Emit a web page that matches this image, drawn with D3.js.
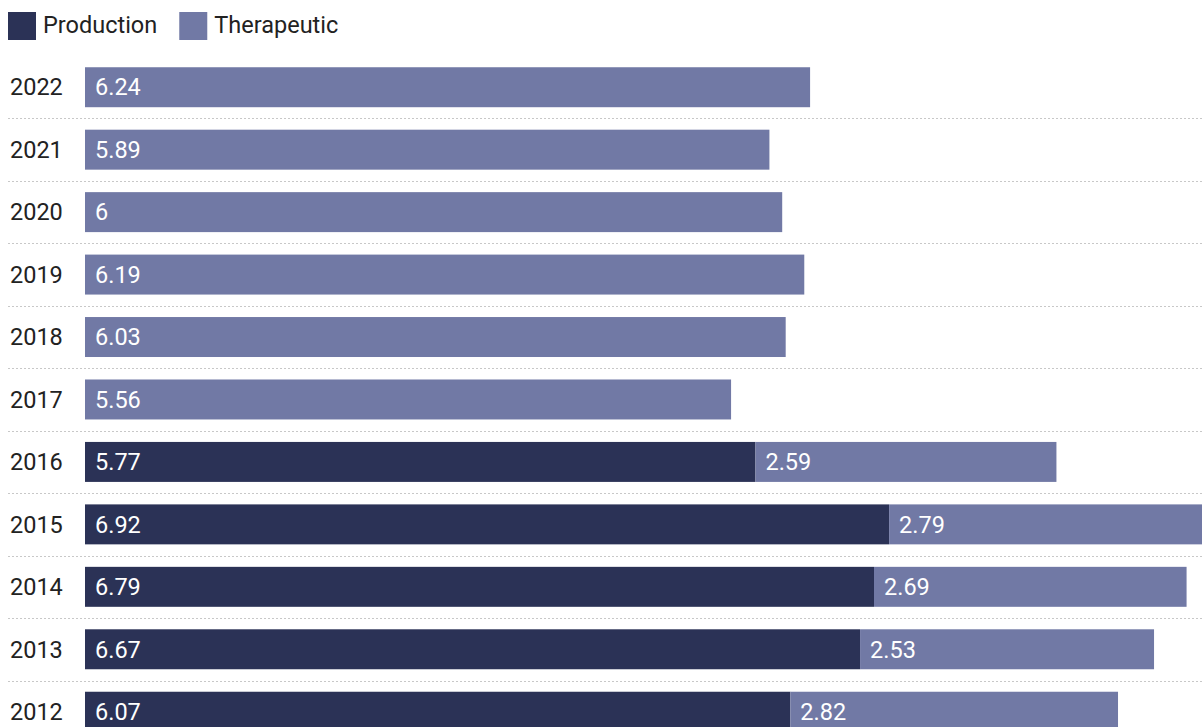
<!DOCTYPE html>
<html>
<head>
<meta charset="utf-8">
<script src="https://cdn.jsdelivr.net/npm/d3@7"></script>
<style>
  body { margin: 0; background: #fff; overflow: hidden; }
  text { font-family: Roboto, "Open Sans", sans-serif; }
</style>
</head>
<body>
<div id="chart"></div>
<script>
const years = ["2022", "2021", "2020", "2019", "2018", "2017", "2016", "2015", "2014", "2013", "2012"]
const production = [null, null, null, null, null, null, 5.77, 6.92, 6.79, 6.67, 6.07]
const therapeutic = [6.24, 5.89, 6, 6.19, 6.03, 5.56, 2.59, 2.79, 2.69, 2.53, 2.82]
const seriesNames = ["Production", "Therapeutic"]
const colors = ["#2b3256", "#7179a5"]

const W = 1202, H = 727
const svg = d3.select("#chart").append("svg")
  .attr("width", W).attr("height", H)

// legend
const legend = svg.append("g")
let lx = 8
seriesNames.forEach((name, i) => {
  const g = legend.append("g").attr("transform", "translate(" + lx + ",12)")
  g.append("rect").attr("width", 28).attr("height", 28).attr("fill", colors[i])
  const t = g.append("text").attr("x", 35).attr("y", 21)
    .attr("font-size", 23.5).attr("fill", "#222").text(name)
  lx += 35 + t.node().getComputedTextLength() + 22
})

const x = d3.scaleLinear().domain([0, 10]).range([85, 85 + 1162])
const y = d3.scaleBand().domain(years).range([56, 56 + 62.45 * years.length])
  .paddingInner(0.36).paddingOuter(0.18)

// dotted separators
svg.append("g").selectAll("line")
  .data(years.slice(0, -1))
  .join("line")
    .attr("x1", 8).attr("x2", W)
    .attr("y1", d => Math.round(y(d) + y.bandwidth() + y.step() * y.paddingInner() / 2) + 0.5)
    .attr("y2", d => Math.round(y(d) + y.bandwidth() + y.step() * y.paddingInner() / 2) + 0.5)
    .attr("stroke", "#c8c8c8").attr("stroke-width", 1).attr("stroke-dasharray", "2,2")

// year labels
svg.append("g").selectAll("text")
  .data(years)
  .join("text")
    .attr("x", 10)
    .attr("y", d => y(d) + y.bandwidth() / 2)
    .attr("dy", "0.35em")
    .attr("font-size", 23.5).attr("fill", "#222")
    .text(d => d)

const rows = years.map((yr, i) => {
  const p = production[i] || 0
  return [
    {year: yr, s: 0, x0: 0, x1: p, v: production[i]},
    {year: yr, s: 1, x0: p, x1: p + therapeutic[i], v: therapeutic[i]}
  ].filter(d => d.v != null)
}).flat()

const bars = svg.append("g").selectAll("g")
  .data(rows)
  .join("g")

bars.append("rect")
  .attr("x", d => x(d.x0))
  .attr("y", d => y(d.year))
  .attr("width", d => x(d.x1) - x(d.x0))
  .attr("height", y.bandwidth())
  .attr("fill", d => colors[d.s])

bars.append("text")
  .attr("x", d => x(d.x0) + 10)
  .attr("y", d => y(d.year) + y.bandwidth() / 2)
  .attr("dy", "0.35em")
  .attr("font-size", 23.5).attr("fill", "#fff")
  .text(d => d.v)
</script>
</body>
</html>
